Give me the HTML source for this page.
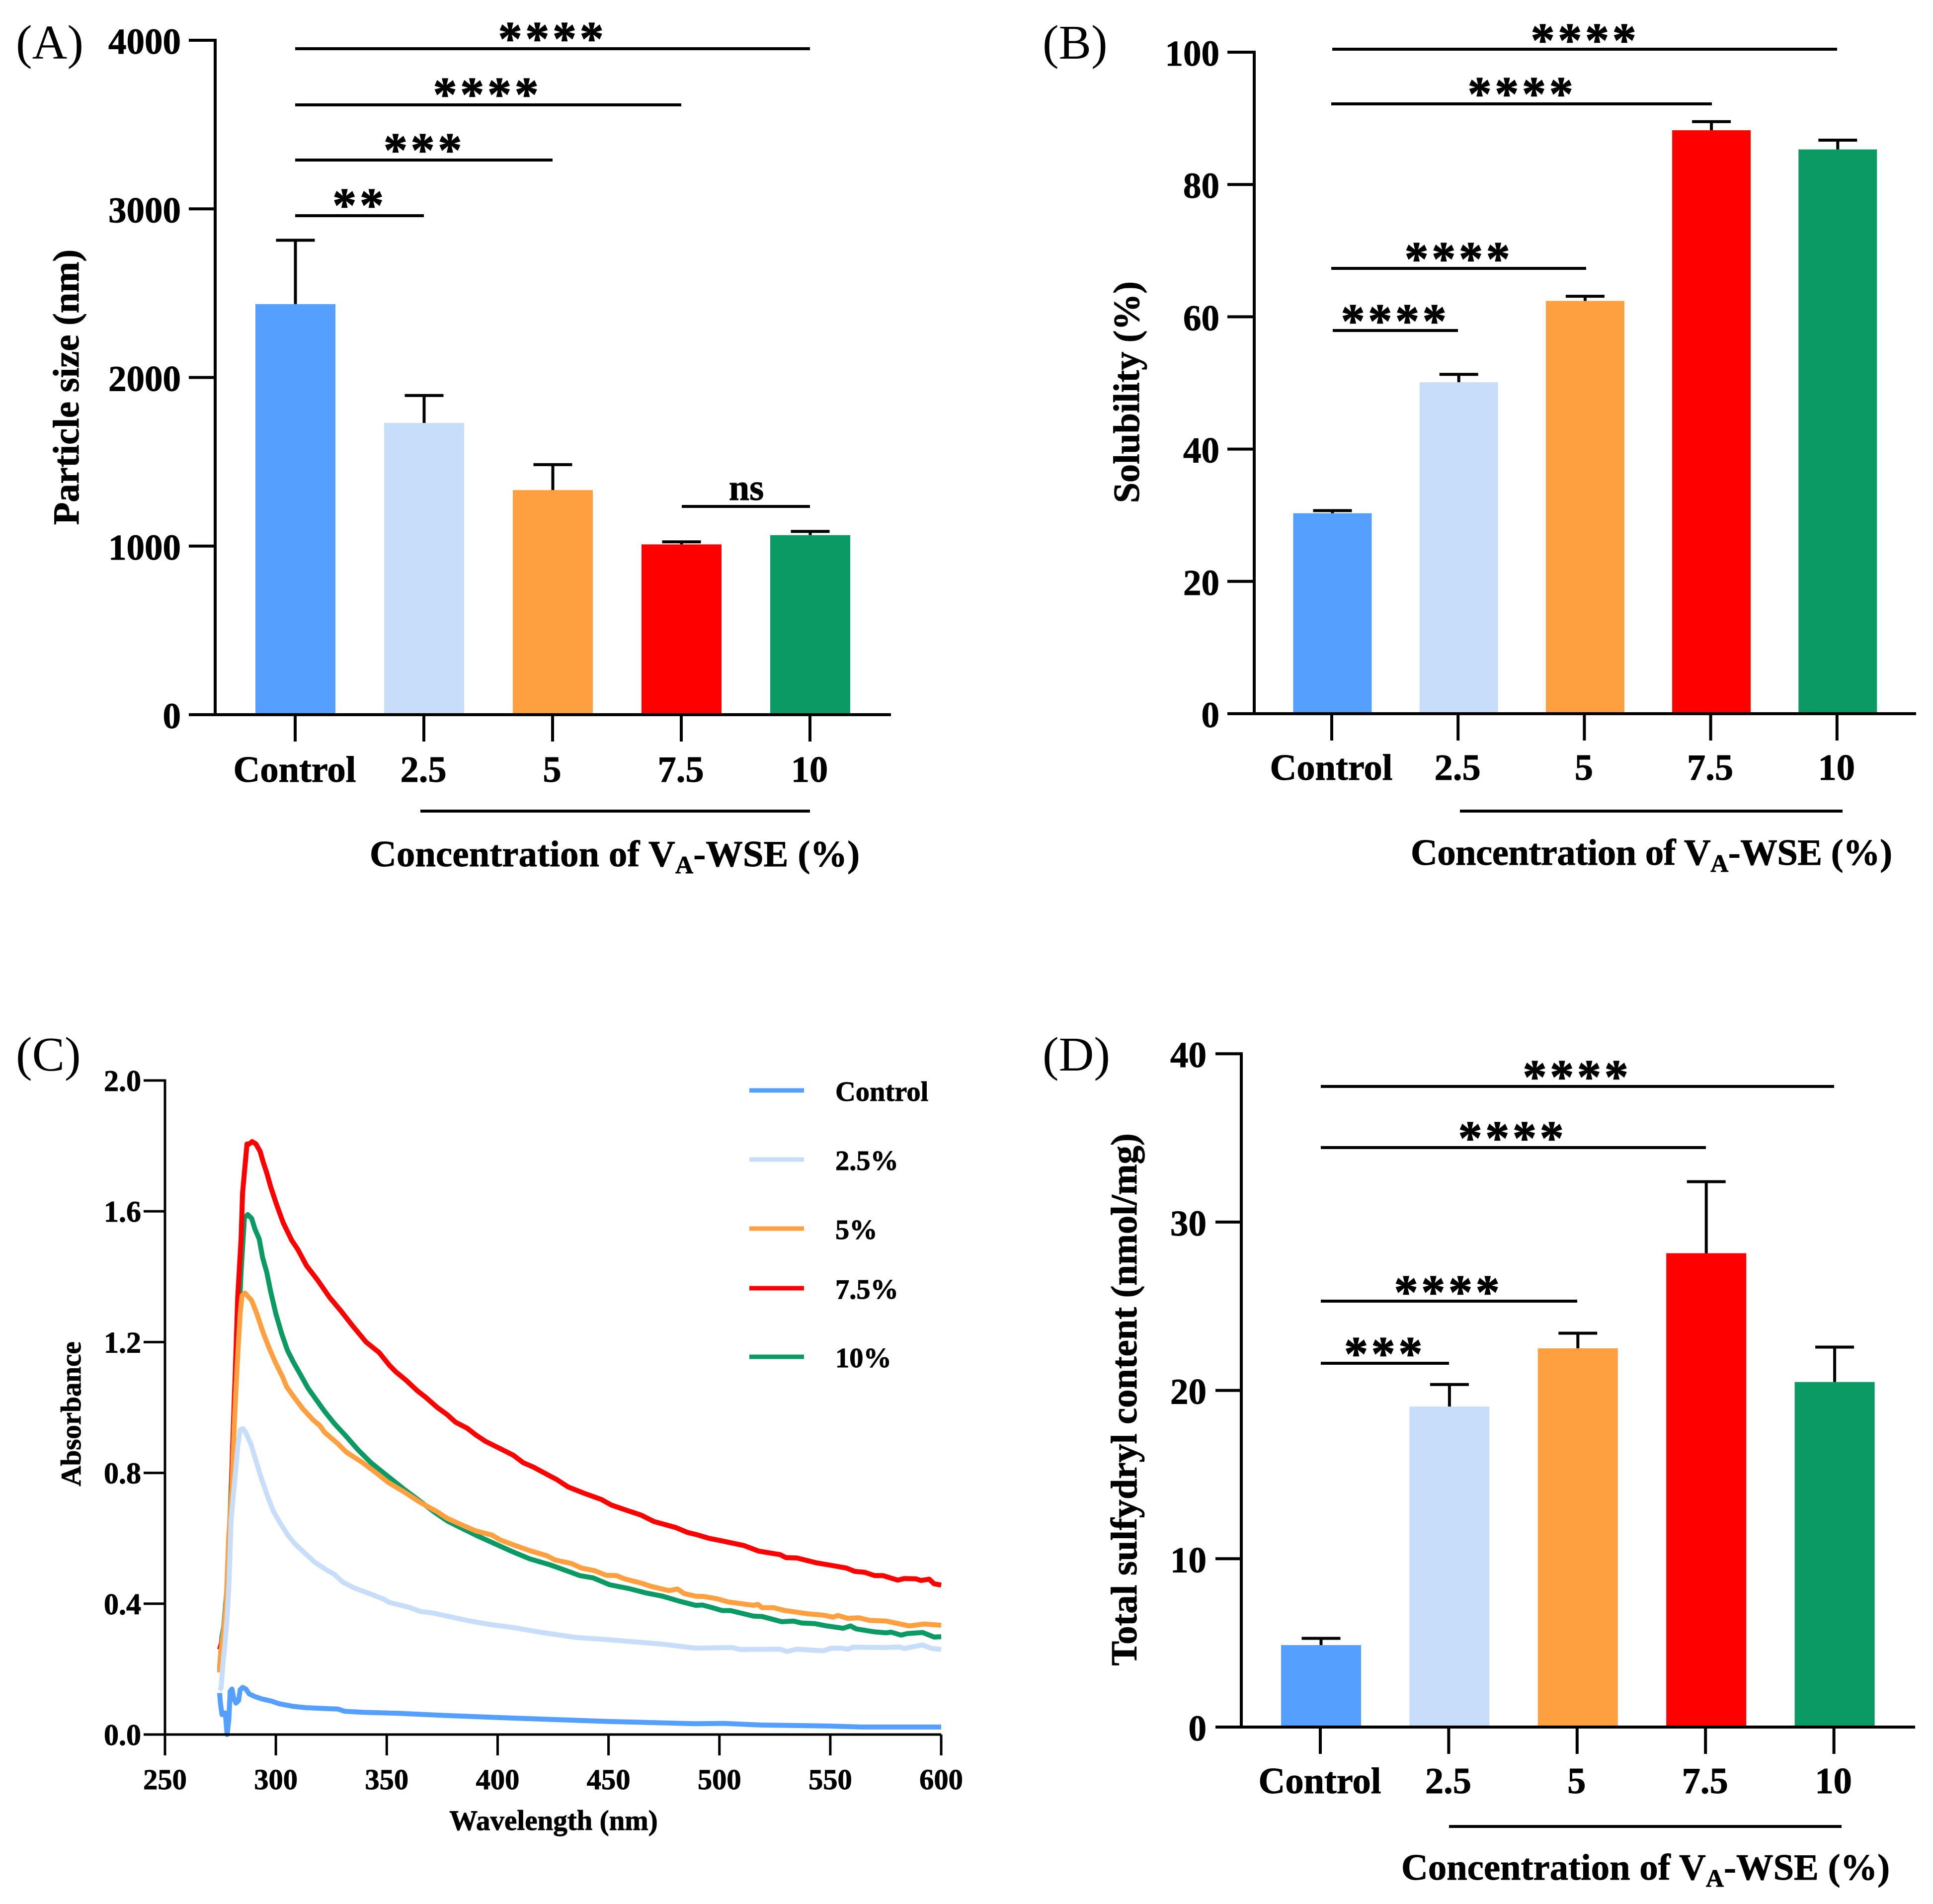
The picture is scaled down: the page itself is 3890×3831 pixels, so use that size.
<!DOCTYPE html>
<html lang="en">
<head>
<meta charset="utf-8">
<title>Particle size, solubility, absorbance and sulfydryl content</title>
<style>
html,body{margin:0;padding:0;background:#fff;}
svg{display:block;}
text{font-family:"Liberation Serif",serif;font-weight:bold;fill:#000;stroke:#000;stroke-width:0.9px;}
.panel-tag{font-weight:normal;font-size:98px;stroke-width:0;}
.title{font-size:74.5px;}
.ctitle{font-size:57px;}
.stars{font-size:96px;letter-spacing:6.7px;text-anchor:middle;stroke-width:1.5px;transform:translate(1px,-1px);}
.rule{stroke:#000;stroke-width:6;fill:none;}
</style>
</head>
<body>
<svg id="figure" xmlns="http://www.w3.org/2000/svg" width="3890" height="3831" viewBox="0 0 3890 3831">
<rect x="0" y="0" width="3890" height="3831" fill="#ffffff"/>

<g id="panel-a">
<text class="panel-tag" x="32" y="118">(A)</text>
<text class="title" text-anchor="middle" transform="translate(158 779) rotate(-90)">Particle size (nm)</text>
<text class="title" x="744" y="1743" textLength="986">Concentration of V<tspan font-size="50" dy="14">A</tspan><tspan dy="-14">-WSE (%)</tspan></text>
<line class="rule" x1="846" y1="1632" x2="1630" y2="1632"/>
<line class="rule" x1="594" y1="98" x2="1630" y2="98"/>
<line class="rule" x1="594" y1="211" x2="1371" y2="211"/>
<line class="rule" x1="594" y1="322" x2="1112" y2="322"/>
<line class="rule" x1="594" y1="434" x2="853" y2="434"/>
<line class="rule" x1="1372" y1="1019" x2="1630" y2="1019"/>
<text class="stars" x="1111" y="111">****</text>
<text class="stars" x="980" y="223">****</text>
<text class="stars" x="853" y="335">***</text>
<text class="stars" x="723" y="446">**</text>
<text class="title" text-anchor="middle" x="1502" y="1006">ns</text>
</g>

<g id="panel-b">
<text class="panel-tag" x="2098" y="118">(B)</text>
<text class="title" style="font-size:74px" text-anchor="middle" transform="translate(2292 789) rotate(-90)">Solubility (%)</text>
<text class="title" x="2839" y="1740" textLength="969">Concentration of V<tspan font-size="50" dy="14">A</tspan><tspan dy="-14">-WSE (%)</tspan></text>
<line class="rule" x1="2938" y1="1632" x2="3708" y2="1632"/>
<line class="rule" x1="2681" y1="99" x2="3697" y2="99"/>
<line class="rule" x1="2679" y1="209" x2="3445" y2="209"/>
<line class="rule" x1="2679" y1="540" x2="3192" y2="540"/>
<line class="rule" x1="2682" y1="665" x2="2934" y2="665"/>
<text class="stars" x="3189" y="114">****</text>
<text class="stars" x="3062" y="222">****</text>
<text class="stars" x="2935" y="554">****</text>
<text class="stars" x="2807" y="679">****</text>
</g>

<g id="panel-c">
<text class="panel-tag" x="32" y="2154">(C)</text>
<text class="ctitle" text-anchor="middle" transform="translate(162 2845) rotate(-90)">Absorbance</text>
<text class="ctitle" text-anchor="middle" x="1114" y="3682">Wavelength (nm)</text>
</g>

<g id="panel-d">
<text class="panel-tag" x="2098" y="2154">(D)</text>
<text class="title" text-anchor="middle" transform="translate(2287 2816) rotate(-90)">Total sulfydryl content (nmol/mg)</text>
<text class="title" x="2820" y="3782" textLength="983">Concentration of V<tspan font-size="50" dy="14">A</tspan><tspan dy="-14">-WSE (%)</tspan></text>
<line class="rule" x1="2916" y1="3675" x2="3706" y2="3675"/>
<line class="rule" x1="2658" y1="2186" x2="3691" y2="2186"/>
<line class="rule" x1="2658" y1="2309" x2="3433" y2="2309"/>
<line class="rule" x1="2658" y1="2618" x2="3174" y2="2618"/>
<line class="rule" x1="2658" y1="2743" x2="2916" y2="2743"/>
<text class="stars" x="3173" y="2200">****</text>
<text class="stars" x="3043" y="2323">****</text>
<text class="stars" x="2914" y="2633">****</text>
<text class="stars" x="2786" y="2757">***</text>
</g>
</svg>

<script>
// ---- Shared category data ----
const barCategories = ["Control", "2.5", "5", "7.5", "10"];
const barColors = ["#559FFF", "#C7DDFA", "#FFA040", "#FF0000", "#0C9A64"];

// ---- Panel A: particle size ----
const particleSizeTicks = [0, 1000, 2000, 3000, 4000];
const particleSizeValues = [2435, 1730, 1332, 1010, 1065];
const particleSizeErrorTops = [2814, 1893, 1483, 1025, 1087];

// ---- Panel B: solubility ----
const solubilityTicks = [0, 20, 40, 60, 80, 100];
const solubilityValues = [30.3, 50.1, 62.4, 88.2, 85.3];
const solubilityErrorTops = [30.7, 51.3, 63.1, 89.5, 86.7];

// ---- Panel D: total sulfydryl content ----
const sulfydrylTicks = [0, 10, 20, 30, 40];
const sulfydrylValues = [4.87, 19.04, 22.5, 28.15, 20.5];
const sulfydrylErrorTops = [5.27, 20.35, 23.4, 32.4, 22.57];

// ---- Panel C: absorbance spectra ----
const wavelengthTicks = [250, 300, 350, 400, 450, 500, 550, 600];
const absorbanceTicks = ["0.0", "0.4", "0.8", "1.2", "1.6", "2.0"];
const spectrumLabels = ["Control", "2.5%", "5%", "7.5%", "10%"];

const controlWavelengths = [274.6, 275, 275.7, 277.2, 278, 278.8, 279.4, 280.2, 281, 282, 283.2, 283.9, 285, 286.5, 288, 290.6, 293.6, 298.1, 301.5, 307.8, 313.8, 320.5, 328, 331, 339.2, 355, 377, 400, 450, 489.3, 502, 519, 549, 564, 600];
const controlAbsorbance = [0.127, 0.096, 0.061, 0.066, 0, 0.046, 0.132, 0.139, 0.111, 0.096, 0.104, 0.137, 0.144, 0.139, 0.124, 0.116, 0.109, 0.102, 0.094, 0.086, 0.082, 0.08, 0.078, 0.071, 0.068, 0.065, 0.058, 0.052, 0.04, 0.033, 0.034, 0.029, 0.026, 0.023, 0.023];

const lightWavelengths = [274.6, 275.3, 276.1, 277.2, 278, 278.7, 279.3, 279.8, 281, 281.7, 282.8, 283.9, 285.2, 286.5, 288.8, 290.6, 292.9, 295.9, 298.8, 301.8, 305.6, 308.6, 313, 317.5, 322.7, 326.5, 330.2, 335.4, 341.4, 348.9, 351.1, 360.1, 365.3, 370.5, 377.3, 386.2, 396, 407.1, 418.3, 425, 435, 450, 475, 489.3, 496.8, 505.7, 509.5, 527.4, 530.4, 534.9, 546.8, 550.5, 555, 558, 560.3, 575.2, 581.2, 583.4, 591.6, 595.3, 600];
const lightAbsorbance = [0.135, 0.142, 0.213, 0.289, 0.36, 0.44, 0.55, 0.653, 0.745, 0.795, 0.881, 0.932, 0.935, 0.922, 0.887, 0.846, 0.795, 0.735, 0.684, 0.648, 0.608, 0.583, 0.555, 0.527, 0.504, 0.489, 0.466, 0.448, 0.433, 0.413, 0.404, 0.389, 0.376, 0.372, 0.362, 0.349, 0.337, 0.327, 0.314, 0.307, 0.297, 0.29, 0.276, 0.264, 0.265, 0.266, 0.26, 0.261, 0.254, 0.261, 0.256, 0.264, 0.264, 0.261, 0.267, 0.266, 0.268, 0.263, 0.274, 0.264, 0.26];

const orangeWavelengths = [274.6, 275.3, 276.5, 277.6, 278.7, 280.2, 281.3, 282.4, 282.8, 283.9, 284.7, 286.1, 289.1, 291.4, 294.4, 297.4, 300, 303, 304.8, 308.6, 312.3, 316.8, 319.8, 322, 328, 331.7, 339.2, 346.6, 350.4, 357.8, 365.3, 372.8, 377.3, 383.2, 390, 397.4, 401.2, 407.1, 414.6, 422.1, 425.8, 433.3, 437.8, 443.7, 449, 453.5, 457.2, 464.7, 469.1, 477.3, 481.1, 484.1, 489.3, 493, 499, 504.2, 515.4, 517.3, 519.2, 524.4, 529.6, 540, 546.8, 551.3, 553.5, 558, 562.9, 567.7, 575.2, 585.6, 592.4, 600];
const orangeAbsorbance = [0.19, 0.26, 0.32, 0.4, 0.6, 0.755, 0.957, 1.109, 1.16, 1.287, 1.342, 1.35, 1.327, 1.287, 1.226, 1.175, 1.135, 1.094, 1.064, 1.028, 0.995, 0.962, 0.945, 0.924, 0.889, 0.864, 0.831, 0.793, 0.772, 0.742, 0.709, 0.681, 0.661, 0.643, 0.623, 0.61, 0.595, 0.58, 0.562, 0.547, 0.534, 0.523, 0.509, 0.501, 0.487, 0.486, 0.476, 0.463, 0.453, 0.44, 0.445, 0.431, 0.423, 0.422, 0.415, 0.405, 0.395, 0.398, 0.388, 0.388, 0.379, 0.369, 0.365, 0.359, 0.364, 0.355, 0.357, 0.349, 0.347, 0.332, 0.338, 0.334];

const redWavelengths = [274.6, 275.7, 276.4, 277.2, 277.8, 278.5, 279.4, 280.5, 281.7, 282.8, 284.3, 285, 286.2, 287, 288, 289.3, 291, 292.9, 294.4, 295.9, 297.7, 300.3, 303.3, 307.1, 310, 313.8, 319, 324.2, 329.5, 334.7, 340.7, 346.6, 351.1, 354.1, 358.6, 363.8, 367.6, 372.8, 377.3, 381, 386.2, 390, 394.4, 402.7, 407.1, 411.6, 416.1, 424.3, 426.6, 431.8, 439.3, 446.7, 451.2, 458, 464.7, 470.6, 480.3, 485.6, 489.3, 495.3, 500.5, 511, 517.7, 527.4, 530, 534.9, 543.8, 549, 557.3, 561, 565.5, 570, 573.7, 580.4, 583.4, 588.6, 590.9, 594.6, 596.8, 600];
const redAbsorbance = [0.26, 0.285, 0.3, 0.33, 0.37, 0.45, 0.6, 0.88, 1.109, 1.337, 1.515, 1.657, 1.748, 1.806, 1.806, 1.813, 1.806, 1.783, 1.748, 1.717, 1.674, 1.621, 1.565, 1.512, 1.482, 1.434, 1.388, 1.337, 1.294, 1.249, 1.2, 1.168, 1.13, 1.109, 1.084, 1.051, 1.031, 1, 0.978, 0.955, 0.937, 0.917, 0.897, 0.869, 0.854, 0.831, 0.818, 0.788, 0.78, 0.757, 0.737, 0.719, 0.702, 0.686, 0.671, 0.651, 0.633, 0.618, 0.612, 0.6, 0.593, 0.578, 0.561, 0.55, 0.541, 0.54, 0.525, 0.519, 0.509, 0.499, 0.496, 0.486, 0.486, 0.472, 0.477, 0.476, 0.471, 0.475, 0.461, 0.457];

const greenWavelengths = [274.6, 275.7, 276.5, 278, 281, 282.8, 284.3, 285.8, 287.3, 289.1, 290.6, 292.5, 294, 295.9, 297.7, 300, 302.6, 305.2, 307.8, 310.8, 314.5, 318.3, 322, 326.5, 331.7, 337, 342.9, 350.4, 357.8, 365.3, 371.3, 377.3, 383.2, 390.7, 398.2, 406.4, 414.6, 423.6, 431, 437, 443, 450.5, 459.4, 466.9, 474.4, 481.8, 489.3, 492.3, 496.8, 501.2, 505, 515.4, 519.2, 528.1, 533.4, 537.1, 543, 547.6, 555.8, 559.1, 561.7, 569.9, 575.2, 577.4, 581.9, 584.9, 591.6, 596.8, 600];
const greenAbsorbance = [0.2, 0.3, 0.33, 0.45, 0.95, 1.2, 1.413, 1.58, 1.59, 1.578, 1.545, 1.515, 1.459, 1.413, 1.353, 1.287, 1.226, 1.175, 1.14, 1.104, 1.059, 1.023, 0.988, 0.95, 0.912, 0.871, 0.831, 0.79, 0.75, 0.712, 0.681, 0.653, 0.633, 0.608, 0.585, 0.56, 0.537, 0.519, 0.501, 0.486, 0.479, 0.458, 0.446, 0.433, 0.423, 0.408, 0.395, 0.396, 0.388, 0.379, 0.379, 0.362, 0.361, 0.345, 0.347, 0.341, 0.339, 0.333, 0.325, 0.332, 0.323, 0.314, 0.311, 0.313, 0.304, 0.309, 0.312, 0.298, 0.299];

const SVGNS = "http://www.w3.org/2000/svg";

function makeLine(parent, x1, y1, x2, y2, width) {
  const l = document.createElementNS(SVGNS, "line");
  l.setAttribute("x1", x1);
  l.setAttribute("y1", y1);
  l.setAttribute("x2", x2);
  l.setAttribute("y2", y2);
  l.setAttribute("stroke", "#000");
  l.setAttribute("stroke-width", width);
  parent.appendChild(l);
  return l;
}

function makeText(parent, content, x, y, size, anchor) {
  const t = document.createElementNS(SVGNS, "text");
  t.setAttribute("x", x);
  t.setAttribute("y", y);
  t.setAttribute("font-size", size);
  t.setAttribute("text-anchor", anchor);
  t.textContent = content;
  parent.appendChild(t);
  return t;
}

function drawBarPanel(panelId, frame, ticks, values, errorTops) {
  const root = document.getElementById(panelId);
  const yScale = v => frame.yZero - v * frame.pxPerUnit;
  const xScale = i => frame.xStart + i * frame.step;

  values.forEach((v, i) => {
    const cx = xScale(i) + frame.barShift;
    const stem = makeLine(root, cx, yScale(errorTops[i]), cx, yScale(v), 6);
    
    
    const cap = makeLine(root, cx - frame.capWidth / 2, yScale(errorTops[i]), cx + frame.capWidth / 2, yScale(errorTops[i]), 6);
    
    
    const bar = document.createElementNS(SVGNS, "rect");
    bar.setAttribute("x", cx - frame.barWidth / 2);
    bar.setAttribute("y", yScale(v));
    bar.setAttribute("width", frame.barWidth);
    bar.setAttribute("height", frame.yZero - yScale(v));
    bar.setAttribute("fill", barColors[i]);
    
    
    root.appendChild(bar);
  });

  const yAxis = makeLine(root, frame.axisX, yScale(ticks[ticks.length - 1]) - 3, frame.axisX, frame.yZero + 3, 6);
  
  
  const xAxis = makeLine(root, frame.tickLeft, frame.yZero, frame.axisRight, frame.yZero, 6);
  
  

  ticks.forEach(tick => {
    const y = yScale(tick);
    const mark = makeLine(root, frame.tickLeft, y, frame.axisX, y, 6);
    
    
    const label = makeText(root, String(tick), frame.yLabelRight, y + 27, 73, "end");
    
    
  });

  barCategories.forEach((cat, i) => {
    const x = xScale(i);
    const mark = makeLine(root, x, frame.yZero, x, frame.yZero + 54, 6);
    
    
    const label = makeText(root, cat, x - 1, frame.xLabelBaseline, 74.5, "middle");
    
    
  });
}

drawBarPanel("panel-a", {yZero: 1438, pxPerUnit: 0.33925, axisX: 433, tickLeft: 380, axisRight: 1793, xStart: 594, step: 259, barShift: 0.5, barWidth: 161, capWidth: 78, yLabelRight: 364, xLabelBaseline: 1573}, particleSizeTicks, particleSizeValues, particleSizeErrorTops);
drawBarPanel("panel-b", {yZero: 1436, pxPerUnit: 13.31, axisX: 2524, tickLeft: 2470, axisRight: 3856, xStart: 2680, step: 254.2, barShift: 1.5, barWidth: 158, capWidth: 78, yLabelRight: 2454, xLabelBaseline: 1569}, solubilityTicks, solubilityValues, solubilityErrorTops);
drawBarPanel("panel-d", {yZero: 3475, pxPerUnit: 33.87, axisX: 2498, tickLeft: 2446, axisRight: 3854, xStart: 2657, step: 258.4, barShift: 1.5, barWidth: 161, capWidth: 78, yLabelRight: 2428, xLabelBaseline: 3608}, sulfydrylTicks, sulfydrylValues, sulfydrylErrorTops);

// ---- Panel C drawing ----
function xWave(w) { return 332 + (w - 250) * 4.463; }
function yAbs(a) { return 3490 - a * 658; }

function drawSpectrum(root, wavelengths, absorbance, color, name) {
  const count = Math.min(wavelengths.length, absorbance.length);
  const pts = [];
  for (let i = 0; i < count; i++) {
    pts.push(xWave(wavelengths[i]).toFixed(1) + "," + yAbs(absorbance[i]).toFixed(1));
  }
  const path = document.createElementNS(SVGNS, "polyline");
  path.setAttribute("points", pts.join(" "));
  path.setAttribute("fill", "none");
  path.setAttribute("stroke", color);
  path.setAttribute("stroke-width", 10);
  path.setAttribute("stroke-linejoin", "round");
  
  
  root.appendChild(path);
}

(function drawPanelC() {
  const root = document.getElementById("panel-c");
  drawSpectrum(root, greenWavelengths, greenAbsorbance, "#0C9A64", "line-10-percent");
  drawSpectrum(root, redWavelengths, redAbsorbance, "#FF0000", "line-7-5-percent");
  drawSpectrum(root, orangeWavelengths, orangeAbsorbance, "#FFA040", "line-5-percent");
  drawSpectrum(root, lightWavelengths, lightAbsorbance, "#C7DDFA", "line-2-5-percent");
  drawSpectrum(root, controlWavelengths, controlAbsorbance, "#559FFF", "line-control");

  const yAxis = makeLine(root, xWave(250), yAbs(2) - 2.5, xWave(250), yAbs(0) + 2.5, 5);
  
  
  const xAxis = makeLine(root, 289, yAbs(0), xWave(600), yAbs(0), 5);
  
  

  absorbanceTicks.forEach(tick => {
    const y = yAbs(parseFloat(tick));
    const mark = makeLine(root, 289, y, xWave(250), y, 5);
    
    
    const label = makeText(root, tick, 284, y + 21, 60, "end");
    
    
  });

  wavelengthTicks.forEach(tick => {
    const x = xWave(tick);
    const mark = makeLine(root, x, yAbs(0), x, yAbs(0) + 42, 5);
    
    
    const label = makeText(root, String(tick), x, 3600, 58.5, "middle");
    
    
  });

  const legendColors = ["#559FFF", "#C7DDFA", "#FFA040", "#FF0000", "#0C9A64"];
  const legendRows = [2194, 2333, 2472, 2592, 2730];
  spectrumLabels.forEach((name, i) => {
    const swatch = makeLine(root, 1508, legendRows[i], 1618, legendRows[i], 9);
    swatch.setAttribute("stroke", legendColors[i]);
    
    
    const label = makeText(root, name, 1681, legendRows[i] + 21, 56.5, "start");
    
    
  });
})();
</script>
</body>
</html>
